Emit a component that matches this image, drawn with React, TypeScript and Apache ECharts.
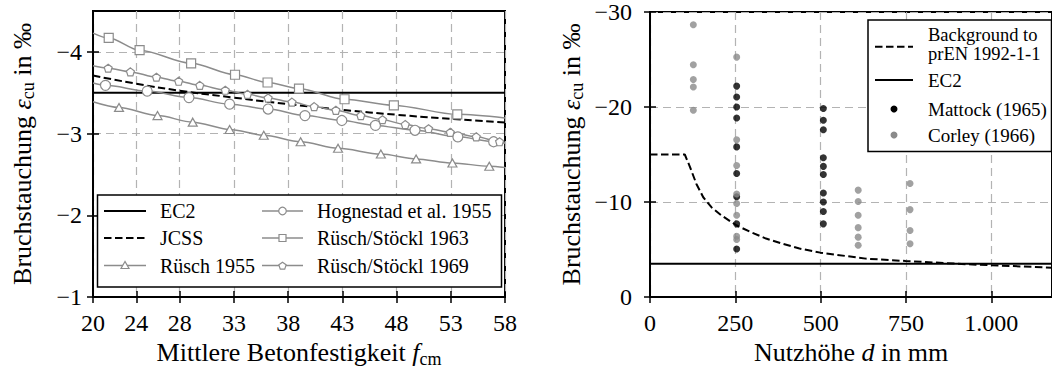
import React, { useEffect, useRef } from 'react';
import * as echarts from 'echarts';

const FONT = 'Liberation Serif, Times New Roman, serif';
const GRAY = '#8c8c8c';
const DOT_GRAY = '#8a8a8a';
const GRID_GRAY = '#b3b3b3';
const DASH = [7.5, 3.5];

// ---------- left chart ----------
const fTicks = [20, 24, 28, 33, 38, 43, 48, 53, 58];
const epsLeftTicks = [-4, -3, -2, -1];
const ec2F = [20, 58];
const ec2E = [-3.5, -3.5];
const jcssF = [20, 24, 28, 33, 38, 43, 48, 53, 58];
const jcssE = [-3.71, -3.61, -3.525, -3.44, -3.36, -3.29, -3.23, -3.18, -3.135];
const ruesch1955F = [20, 22.4, 25.95, 29.2, 32.6, 35.75, 39.15, 42.6, 46.55, 49.8, 53.15, 56.55, 58];
const ruesch1955E = [-3.39, -3.32, -3.22, -3.14, -3.05, -2.98, -2.9, -2.82, -2.75, -2.69, -2.64, -2.6, -2.585];
const hognestadF = [20, 21.15, 25.0, 28.85, 32.6, 36.15, 39.55, 42.95, 46.05, 49.7, 53.65, 56.95, 58];
const hognestadE = [-3.62, -3.59, -3.52, -3.44, -3.36, -3.3, -3.22, -3.16, -3.1, -3.04, -2.96, -2.9, -2.88];
const rs1963F = [20, 21.45, 24.3, 29.05, 33.1, 36.1, 39.0, 43.2, 47.75, 53.6, 58];
const rs1963E = [-4.23, -4.17, -4.02, -3.86, -3.72, -3.625, -3.55, -3.42, -3.345, -3.235, -3.19];
const rs1969F = [20, 21.4, 23.45, 25.85, 27.9, 29.85, 32.2, 34.25, 36.15, 38.35, 40.4, 42.4, 44.7, 46.7, 48.8, 50.95, 52.95, 55.35, 57.5, 58];
const rs1969E = [-3.83, -3.8, -3.755, -3.69, -3.64, -3.59, -3.53, -3.48, -3.435, -3.385, -3.33, -3.285, -3.22, -3.17, -3.11, -3.06, -3.015, -2.96, -2.9, -2.89];

// ---------- right chart ----------
const dTicks = [0, 250, 500, 750, 1000];
const epsRightTicks = [-30, -20, -10, 0];
const bgD = [0, 102, 117, 136, 156, 180, 209, 253, 294, 340, 389, 438, 499, 632, 749, 934, 1000, 1178];
const bgE = [-15, -15, -13.7, -11.9, -10.5, -9.45, -8.6, -7.55, -6.85, -6.15, -5.6, -5.1, -4.67, -4.04, -3.79, -3.44, -3.34, -3.09];
const ec2D = [0, 1178];
const ec2RightE = [-3.5, -3.5];
const mattockD = [254, 508];
const mattockAt254 = [-22.2, -21.05, -20.0, -18.85, -15.8, -13.0, -10.55, -7.7, -5.05];
const mattockAt508 = [-19.85, -18.6, -17.6, -14.65, -13.75, -12.9, -10.95, -10.0, -9.0, -7.7];
const corleyD = [127, 254, 610, 762];
const corleyAt127 = [-28.65, -24.45, -22.9, -22.1, -19.65];
const corleyAt254 = [-25.25, -16.55, -13.85, -10.85, -9.85, -8.6, -6.4, -6.05];
const corleyAt610 = [-11.25, -10.05, -8.6, -7.3, -6.3, -5.45];
const corleyAt762 = [-11.95, -9.2, -7.0, -5.6];

const pairs = (xs: number[], ys: number[]) => xs.map((x, i) => [x, ys[i]]);
const markedLine = (xs: number[], ys: number[]) =>
  xs.map((x, i) =>
    i === 0 || i === xs.length - 1 ? { value: [x, ys[i]], symbol: 'none' } : { value: [x, ys[i]] }
  );
const columns = (ds: number[], groups: number[][]) => {
  const out: number[][] = [];
  ds.forEach((d, k) => groups[k].forEach((e) => out.push([d, e])));
  return out;
};

const minus = (v: number) => (v < 0 ? '\u2212' + Math.abs(v) : String(v));
const thousands = (v: number) =>
  v >= 1000 ? Math.floor(v / 1000) + '.' + String(v % 1000).padStart(3, '0') : String(v);

const PENTAGON = 'path://M0,-10L9.511,-3.09L5.878,8.09L-5.878,8.09L-9.511,-3.09Z';

const richTitle = {
  t: { fontSize: 26, fontFamily: FONT, color: '#000', lineHeight: 30 },
  i: { fontSize: 26, fontFamily: FONT, color: '#000', fontStyle: 'italic', lineHeight: 30 },
  s: { fontSize: 18, fontFamily: FONT, color: '#000', lineHeight: 18, verticalAlign: 'bottom' },
};

const tickStyle = { color: '#000', width: 1.5 };
const splitStyle = { show: true, lineStyle: { color: GRID_GRAY, width: 1.2, type: [8, 5] } };

function mainAxis(o: any) {
  return {
    type: 'value',
    axisLine: { show: true, onZero: false, lineStyle: { color: '#000', width: 2 } },
    axisTick: { show: true, length: 6, customValues: o.ticks, lineStyle: tickStyle },
    axisLabel: {
      customValues: o.ticks,
      fontSize: 24,
      fontFamily: FONT,
      color: '#000',
      margin: o.margin,
      formatter: o.formatter,
    },
    splitLine: splitStyle,
    nameLocation: 'middle',
    nameTextStyle: { rich: richTitle },
    ...o.extra,
  };
}
function innerAxis(o: any) {
  return {
    type: 'value',
    axisLine: { show: false },
    axisLabel: { show: false },
    splitLine: { show: false },
    axisTick: { show: true, inside: true, length: 6, customValues: o.ticks, lineStyle: tickStyle },
    ...o.extra,
  };
}

function pentagonPoints(cx: number, cy: number, r: number) {
  const pts: number[][] = [];
  for (let k = 0; k < 5; k++) {
    const a = -Math.PI / 2 + (k * 2 * Math.PI) / 5;
    pts.push([cx + r * Math.cos(a), cy + r * Math.sin(a)]);
  }
  return pts;
}

function buildLegends() {
  const els: any[] = [];
  const txt = (x: number, y: number, text: string, size: number, lh?: number) => ({
    type: 'text',
    x,
    y,
    style: { text, fill: '#000', fontSize: size, fontFamily: FONT, verticalAlign: 'middle', align: 'left', lineHeight: lh || size + 2 },
  });
  const ln = (x1: number, x2: number, y: number, color: string, w: number, dash?: number[]) => ({
    type: 'line',
    shape: { x1, y1: y, x2, y2: y },
    style: { stroke: color, lineWidth: w, lineDash: dash || null },
  });
  const mk = { fill: '#fff', stroke: GRAY, lineWidth: 1.2 };
  // left legend
  els.push({ type: 'rect', shape: { x: 97.5, y: 195, width: 404, height: 92 }, style: { fill: '#fff', stroke: '#000', lineWidth: 1.5 } });
  const c1 = [104, 146, 160];
  const c2 = [262, 303, 317];
  const rows = [211, 238, 265.5];
  els.push(ln(c1[0], c1[1], rows[0], '#000', 2));
  els.push(txt(c1[2], rows[0], 'EC2', 20));
  els.push(ln(c1[0], c1[1], rows[1], '#000', 2, DASH));
  els.push(txt(c1[2], rows[1], 'JCSS', 20));
  els.push(ln(c1[0], c1[1], rows[2], GRAY, 1.5));
  const tcx = (c1[0] + c1[1]) / 2;
  els.push({ type: 'polygon', shape: { points: [[tcx, rows[2] - 4], [tcx - 4, rows[2] + 3], [tcx + 4, rows[2] + 3]] }, style: mk });
  els.push(txt(c1[2], rows[2], 'Rüsch 1955', 20));
  const mcx = (c2[0] + c2[1]) / 2;
  els.push(ln(c2[0], c2[1], rows[0], GRAY, 1.5));
  els.push({ type: 'circle', shape: { cx: mcx, cy: rows[0], r: 3.8 }, style: mk });
  els.push(txt(c2[2], rows[0], 'Hognestad et al. 1955', 20));
  els.push(ln(c2[0], c2[1], rows[1], GRAY, 1.5));
  els.push({ type: 'rect', shape: { x: mcx - 3.5, y: rows[1] - 3.5, width: 7, height: 7 }, style: mk });
  els.push(txt(c2[2], rows[1], 'Rüsch/Stöckl 1963', 20));
  els.push(ln(c2[0], c2[1], rows[2], GRAY, 1.5));
  els.push({ type: 'polygon', shape: { points: pentagonPoints(mcx, rows[2] + 0.5, 3.8) }, style: mk });
  els.push(txt(c2[2], rows[2], 'Rüsch/Stöckl 1969', 20));

  // right legend
  els.push({ type: 'rect', shape: { x: 868, y: 20, width: 183.5, height: 131.5 }, style: { fill: '#fff', stroke: '#000', lineWidth: 1.5 } });
  els.push(ln(875, 913, 46.7, '#000', 2, DASH));
  els.push(txt(928, 35.2, 'Background to', 18.5, 18.5));
  els.push(txt(928, 54.4, 'prEN 1992-1-1', 18.5, 18.5));
  els.push(ln(875, 913, 80, '#000', 2));
  els.push(txt(928, 80.5, 'EC2', 19));
  els.push({ type: 'circle', shape: { cx: 894, cy: 109, r: 3.5 }, style: { fill: '#000' } });
  els.push(txt(928, 109, 'Mattock (1965)', 19));
  els.push({ type: 'circle', shape: { cx: 894, cy: 135, r: 3.5 }, style: { fill: DOT_GRAY } });
  els.push(txt(928, 135, 'Corley (1966)', 19));
  return els.map((e) => ({ ...e, z: 100 }));
}

export default function App() {
  const ref = useRef<HTMLDivElement>(null);
  useEffect(() => {
    if (!ref.current) return;
    const chart = echarts.init(ref.current, undefined, { renderer: 'svg' });
    const grayMarker = { color: '#fff', borderColor: GRAY, borderWidth: 1.2 };
    const grayLine = { color: GRAY, width: 1.5 };
    const option: any = {
      animation: false,
      backgroundColor: '#fff',
      textStyle: { fontFamily: FONT },
      grid: [
        { left: 93, right: 547, top: 11, bottom: 81, show: true, borderColor: '#000', borderWidth: 2, backgroundColor: 'transparent' },
        { left: 650, right: -1, top: 11, bottom: 81, show: true, borderColor: '#000', borderWidth: 2, backgroundColor: 'transparent' },
      ],
      xAxis: [
        mainAxis({
          ticks: fTicks,
          margin: 14,
          formatter: (v: number) => String(v),
          extra: {
            gridIndex: 0, min: 20, max: 58, position: 'bottom',
            name: '{t|Mittlere Betonfestigkeit }{i|f}{s|cm}', nameGap: 40,
          },
        }),
        innerAxis({ ticks: fTicks, extra: { gridIndex: 0, min: 20, max: 58, position: 'bottom' } }),
        mainAxis({
          ticks: dTicks,
          margin: 14,
          formatter: thousands,
          extra: {
            gridIndex: 1, min: 0, max: 1178, position: 'bottom',
            name: '{t|Nutzhöhe }{i|d}{t| in mm}', nameGap: 40,
          },
        }),
        innerAxis({ ticks: dTicks, extra: { gridIndex: 1, min: 0, max: 1178, position: 'bottom' } }),
      ],
      yAxis: [
        mainAxis({
          ticks: epsLeftTicks,
          margin: 11,
          formatter: minus,
          extra: {
            gridIndex: 0, min: -4.5, max: -1, inverse: true, position: 'left',
            name: '{t|Bruchstauchung }{i|ε}{s|cu}{t| in ‰}', nameGap: 56, nameRotate: 90,
          },
        }),
        innerAxis({ ticks: epsLeftTicks, extra: { gridIndex: 0, min: -4.5, max: -1, inverse: true, position: 'left' } }),
        mainAxis({
          ticks: epsRightTicks,
          margin: 18,
          formatter: minus,
          extra: {
            gridIndex: 1, min: -30, max: 0, inverse: true, position: 'left',
            name: '{t|Bruchstauchung }{i|ε}{s|cu}{t| in ‰}', nameGap: 64, nameRotate: 90,
          },
        }),
        innerAxis({ ticks: epsRightTicks, extra: { gridIndex: 1, min: -30, max: 0, inverse: true, position: 'left' } }),
      ],
      series: [
        { type: 'line', name: 'EC2', xAxisIndex: 0, yAxisIndex: 0, data: pairs(ec2F, ec2E), symbol: 'none', lineStyle: { color: '#000', width: 2 }, z: 3 },
        { type: 'line', name: 'JCSS', xAxisIndex: 0, yAxisIndex: 0, data: pairs(jcssF, jcssE), symbol: 'none', smooth: true, lineStyle: { color: '#000', width: 2, type: DASH }, z: 3 },
        { type: 'line', name: 'Rüsch 1955', xAxisIndex: 0, yAxisIndex: 0, data: markedLine(ruesch1955F, ruesch1955E), symbol: 'triangle', symbolSize: [9, 8], showAllSymbol: true, smooth: 0.3, smoothMonotone: 'x', itemStyle: grayMarker, lineStyle: grayLine },
        { type: 'line', name: 'Hognestad et al. 1955', xAxisIndex: 0, yAxisIndex: 0, data: markedLine(hognestadF, hognestadE), symbol: 'circle', symbolSize: 10, showAllSymbol: true, smooth: 0.3, smoothMonotone: 'x', itemStyle: grayMarker, lineStyle: grayLine },
        { type: 'line', name: 'Rüsch/Stöckl 1963', xAxisIndex: 0, yAxisIndex: 0, data: markedLine(rs1963F, rs1963E), symbol: 'rect', symbolSize: 9, showAllSymbol: true, smooth: 0.3, smoothMonotone: 'x', itemStyle: grayMarker, lineStyle: grayLine },
        { type: 'line', name: 'Rüsch/Stöckl 1969', xAxisIndex: 0, yAxisIndex: 0, data: markedLine(rs1969F, rs1969E), symbol: PENTAGON, symbolSize: 8, showAllSymbol: true, smooth: 0.3, smoothMonotone: 'x', itemStyle: grayMarker, lineStyle: grayLine },
        { type: 'line', name: 'Background to prEN 1992-1-1', xAxisIndex: 2, yAxisIndex: 2, data: pairs(bgD, bgE), symbol: 'none', lineStyle: { color: '#000', width: 2, type: DASH }, z: 3 },
        { type: 'line', name: 'EC2 ', xAxisIndex: 2, yAxisIndex: 2, data: pairs(ec2D, ec2RightE), symbol: 'none', lineStyle: { color: '#000', width: 2 }, z: 3 },
        { type: 'scatter', name: 'Mattock (1965)', xAxisIndex: 2, yAxisIndex: 2, data: columns(mattockD, [mattockAt254, mattockAt508]), symbol: 'circle', symbolSize: 7, itemStyle: { color: '#000' }, z: 4 },
        { type: 'scatter', name: 'Corley (1966)', xAxisIndex: 2, yAxisIndex: 2, data: columns(corleyD, [corleyAt127, corleyAt254, corleyAt610, corleyAt762]), symbol: 'circle', symbolSize: 7, itemStyle: { color: DOT_GRAY }, z: 5 },
      ],
      graphic: buildLegends(),
    };
    chart.setOption(option);
    return () => chart.dispose();
  }, []);
  return <div ref={ref} style={{ position: 'absolute', left: 0, top: 0, width: 1052, height: 378 }} />;
}
